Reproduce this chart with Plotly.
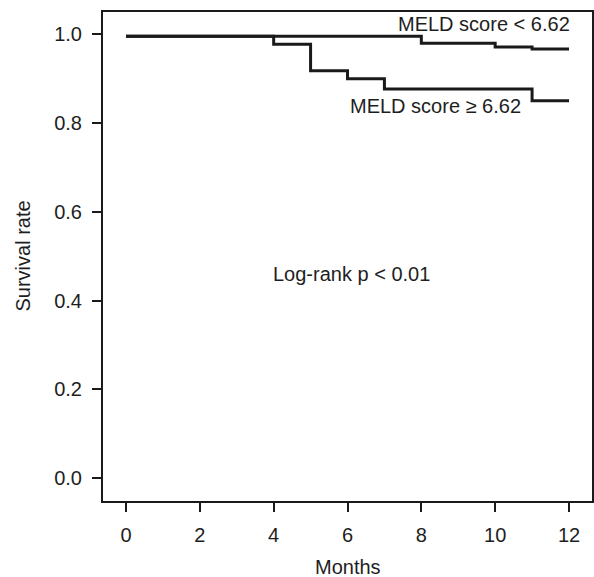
import plotly.graph_objects as go

# Kaplan-Meier step data
low_times = [0, 8, 10, 11, 12]
low_surv = [0.995, 0.979, 0.971, 0.966, 0.966]
high_times = [0, 4, 5, 6, 7, 11, 12]
high_surv = [0.995, 0.977, 0.917, 0.899, 0.876, 0.850, 0.850]

x_ticks = [0, 2, 4, 6, 8, 10, 12]
y_ticks = [0.0, 0.2, 0.4, 0.6, 0.8, 1.0]
y_tick_labels = ["0.0", "0.2", "0.4", "0.6", "0.8", "1.0"]

FONT = "Liberation Sans, Arial, sans-serif"
FS = 20
TXT = "#1e1e1e"
LINE = "#1a1a1a"

fig = go.Figure()
fig.add_trace(go.Scatter(x=low_times, y=low_surv, mode="lines",
                         line=dict(shape="hv", color=LINE, width=3),
                         showlegend=False, hoverinfo="skip"))
fig.add_trace(go.Scatter(x=high_times, y=high_surv, mode="lines",
                         line=dict(shape="hv", color=LINE, width=3),
                         showlegend=False, hoverinfo="skip"))

fig.add_annotation(x=12.07, y=1.022, text="MELD score &lt; 6.62", showarrow=False,
                   xanchor="right", yanchor="middle",
                   font=dict(family=FONT, size=FS, color=TXT))
fig.add_annotation(x=10.75, y=0.838, text="MELD score ≥ 6.62", showarrow=False,
                   xanchor="right", yanchor="middle",
                   font=dict(family=FONT, size=FS, color=TXT))
fig.add_annotation(x=6.095, y=0.46, text="Log-rank p &lt; 0.01", showarrow=False,
                   xanchor="center", yanchor="middle",
                   font=dict(family=FONT, size=FS, color=TXT))

# axis titles
fig.add_annotation(x=0.501, y=-0.134, xref="paper", yref="paper", text="Months",
                   showarrow=False, xanchor="center", yanchor="middle",
                   font=dict(family=FONT, size=FS, color=TXT))
fig.add_annotation(x=-0.1656, y=0.5, xref="paper", yref="paper", text="Survival rate",
                   showarrow=False, xanchor="center", yanchor="middle", textangle=-90,
                   font=dict(family=FONT, size=FS, color=TXT))

fig.update_xaxes(range=[-0.623, 12.623], tickvals=x_ticks, ticks="outside",
                 ticklen=9, tickwidth=2, tickcolor=LINE,
                 showline=True, linecolor=LINE, linewidth=2, mirror=True,
                 showgrid=False, zeroline=False, ticklabelstandoff=6,
                 tickfont=dict(family=FONT, size=FS, color=TXT))
fig.update_yaxes(range=[-0.0511, 1.0495], tickvals=y_ticks, ticktext=y_tick_labels,
                 ticks="outside", ticklen=9, tickwidth=2, tickcolor=LINE,
                 showline=True, linecolor=LINE, linewidth=2, mirror=True,
                 showgrid=False, zeroline=False, ticklabelstandoff=6,
                 tickfont=dict(family=FONT, size=FS, color=TXT))

fig.update_layout(width=594, height=577,
                  margin=dict(l=103, r=2, t=12, b=76, autoexpand=False),
                  plot_bgcolor="white", paper_bgcolor="white")

fig.write_html("out.html",
               config={"displayModeBar": False},
               post_script="document.body.style.margin='0';"
                           "document.body.style.overflow='hidden';")
